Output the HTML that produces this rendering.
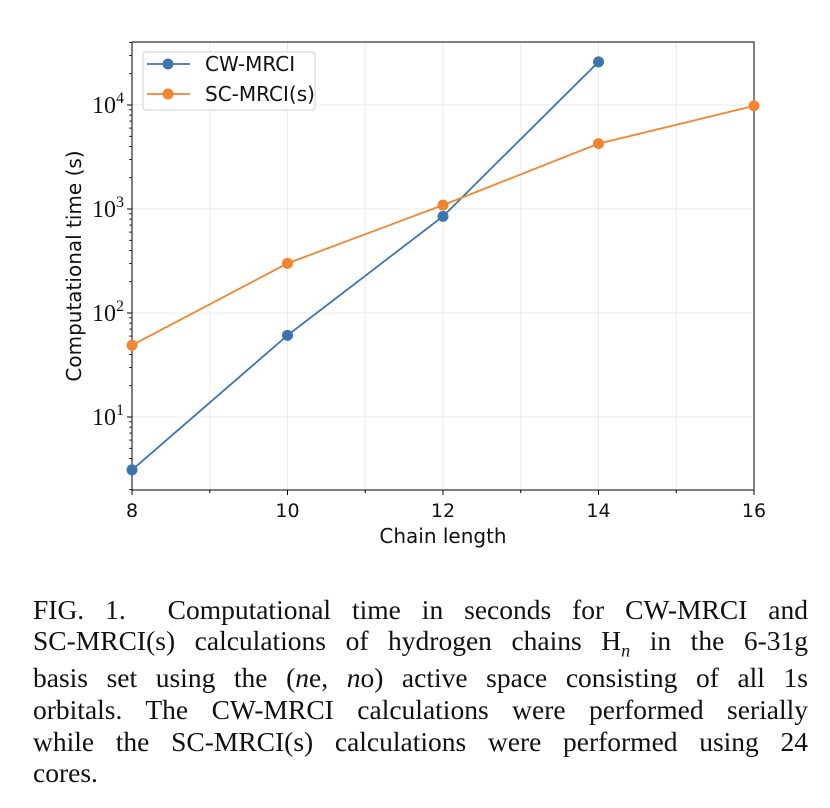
<!DOCTYPE html>
<html><head><meta charset="utf-8"><style>
body{margin:0;background:#fff;width:830px;height:808px;overflow:hidden}
svg text{font-family:"DejaVu Sans","Liberation Sans",sans-serif}
.cap{position:absolute;left:33px;top:0;width:775px;font-family:"Liberation Serif",serif;font-size:27.5px;color:#111}
.cap div{position:absolute;left:0;width:775px;height:30px;line-height:30px;text-align:justify;text-align-last:justify;white-space:nowrap}
.cap div.last{text-align-last:left}
.cap sub{line-height:0;font-style:italic;font-size:18px}
</style></head><body>
<svg id="chart" width="830" height="590" style="position:absolute;left:0;top:0"></svg>
<div class="cap">
<div style="top:595px">FIG. 1.&nbsp; Computational time in seconds for CW-MRCI and</div>
<div style="top:626px">SC-MRCI(s) calculations of hydrogen chains H<sub>n</sub> in the 6-31g</div>
<div style="top:663px">basis set using the (<i>n</i>e, <i>n</i>o) active space consisting of all 1s</div>
<div style="top:695px">orbitals. The CW-MRCI calculations were performed serially</div>
<div style="top:727px">while the SC-MRCI(s) calculations were performed using 24</div>
<div class="last" style="top:758px">cores.</div>
</div>
<script>
const cwX=[8,10,12,14];
const cwY=[3.1,61,850,26000];
const scX=[8,10,12,14,16];
const scY=[49,300,1090,4250,9800];
const xTicks=[8,10,12,14,16];
const yDecades=[1,2,3,4];
const NS='http://www.w3.org/2000/svg';
const svg=document.getElementById('chart');
const L=132,R=754,T=42,B=490;
const X=v=>L+(v-8)/8*(R-L);
const Y=v=>417-(Math.log10(v)-1)*104;
function mk(t,a,p){const e=document.createElementNS(NS,t);for(const k in a)e.setAttribute(k,a[k]);(p||svg).appendChild(e);return e;}
for(let v=8;v<=16;v++){const g=mk('line',{x1:X(v),x2:X(v),y1:T,y2:B,stroke:'#ebebeb','stroke-width':1});

}
yDecades.forEach(d=>{const g=mk('line',{x1:L,x2:R,y1:Y(10**d),y2:Y(10**d),stroke:'#ebebeb','stroke-width':1});

});
for(let d=0;d<=4;d++)for(let m=2;m<=9;m++){const v=m*10**d;const y=Y(v);if(y<T||y>B)continue;
const t=mk('line',{x1:L-3,x2:L,y1:y,y2:y,stroke:'#000','stroke-width':0.8});

}
yDecades.forEach(d=>{const y=Y(10**d);
const t=mk('line',{x1:L-5,x2:L,y1:y,y2:y,stroke:'#000','stroke-width':1});


const tx=mk('text',{x:L-8,y:y+8,'text-anchor':'end','font-size':24,fill:'#111'});
tx.style.fontFamily='"Liberation Serif",serif';
tx.innerHTML='10<tspan dy="-10" font-size="16">'+d+'</tspan>';

});
for(let v=8;v<=16;v++){const maj=xTicks.includes(v);
const t=mk('line',{x1:X(v),x2:X(v),y1:B,y2:B+(maj?5:3),stroke:'#000','stroke-width':1});


if(maj){const tx=mk('text',{x:X(v),y:B+27,'text-anchor':'middle','font-size':19,fill:'#111'});tx.textContent=v;

}}
const fr=mk('rect',{x:L,y:T,width:R-L,height:B-T,fill:'none',stroke:'#000','stroke-width':1});


const xl=mk('text',{x:443,y:543,'text-anchor':'middle','font-size':20,fill:'#111'});xl.textContent='Chain length';


const yl=mk('text',{x:0,y:0,'text-anchor':'middle','font-size':20,fill:'#111',transform:'translate(81,266) rotate(-90)'});yl.textContent='Computational time (s)';


function series(xs,ys,c,name){
const l=mk('polyline',{points:xs.map((x,i)=>X(x)+','+Y(ys[i])).join(' '),fill:'none',stroke:c,'stroke-width':1.8});


xs.forEach((x,i)=>{const p=mk('circle',{cx:X(x),cy:Y(ys[i]),r:5.5,fill:c});

});}
series(cwX,cwY,'#3a75b0','cw-mrci');
series(scX,scY,'#f28530','sc-mrci');
const lg=mk('rect',{x:143,y:52,width:172,height:58,rx:3,fill:'#fff',stroke:'#ccc','stroke-width':1});


[['CW-MRCI','#3a75b0',64],['SC-MRCI(s)','#f28530',94]].forEach(([n,c,y])=>{
mk('line',{x1:147,x2:190,y1:y,y2:y,stroke:c,'stroke-width':1.8});
mk('circle',{cx:168,cy:y,r:5.5,fill:c});
const t=mk('text',{x:205,y:y+7,'font-size':20,fill:'#111'});t.textContent=n;

});
</script>
</body></html>
